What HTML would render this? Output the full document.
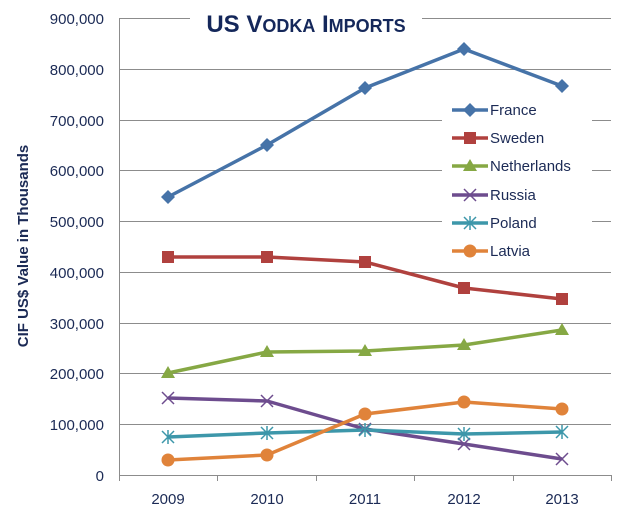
<!DOCTYPE html>
<html><head><meta charset="utf-8"><style>
body{margin:0;background:#fff;}
svg text{font-family:"Liberation Sans",sans-serif;fill:#1b2a55;}
</style></head><body>
<svg width="630" height="516" viewBox="0 0 630 516" xmlns="http://www.w3.org/2000/svg">
<rect width="630" height="516" fill="#fff"/>
<g stroke="#8c8c8c" stroke-width="1">
<line x1="119" y1="18.5" x2="611" y2="18.5"/>
<line x1="119" y1="69.5" x2="611" y2="69.5"/>
<line x1="119" y1="120.5" x2="611" y2="120.5"/>
<line x1="119" y1="170.5" x2="611" y2="170.5"/>
<line x1="119" y1="221.5" x2="611" y2="221.5"/>
<line x1="119" y1="272.5" x2="611" y2="272.5"/>
<line x1="119" y1="323.5" x2="611" y2="323.5"/>
<line x1="119" y1="373.5" x2="611" y2="373.5"/>
<line x1="119" y1="424.5" x2="611" y2="424.5"/>
<line x1="119.5" y1="18" x2="119.5" y2="475"/>
<line x1="119" y1="475.5" x2="611" y2="475.5"/>
<line x1="119.5" y1="475" x2="119.5" y2="481"/>
<line x1="217.5" y1="475" x2="217.5" y2="481"/>
<line x1="316.5" y1="475" x2="316.5" y2="481"/>
<line x1="414.5" y1="475" x2="414.5" y2="481"/>
<line x1="513.5" y1="475" x2="513.5" y2="481"/>
<line x1="611.5" y1="475" x2="611.5" y2="481"/>
</g>
<g font-size="15" text-anchor="end">
<text x="104" y="24">900,000</text><text x="104" y="75">800,000</text>
<text x="104" y="126">700,000</text><text x="104" y="176">600,000</text>
<text x="104" y="227">500,000</text><text x="104" y="278">400,000</text>
<text x="104" y="329">300,000</text><text x="104" y="379">200,000</text>
<text x="104" y="430">100,000</text><text x="104" y="481">0</text>
</g>
<g font-size="15" text-anchor="middle">
<text x="168" y="504">2009</text><text x="267" y="504">2010</text>
<text x="365" y="504">2011</text><text x="464" y="504">2012</text>
<text x="562" y="504">2013</text>
</g>
<text transform="translate(28,246) rotate(-90)" font-size="15" font-weight="bold" text-anchor="middle">CIF US$ Value in Thousands</text>
<rect x="190" y="8" width="232" height="30" fill="#fff"/>
<text x="306" y="32" font-size="24" font-weight="bold" text-anchor="middle" style="fill:#14275a">US V<tspan font-size="18">ODKA</tspan> I<tspan font-size="18">MPORTS</tspan></text>

<g fill="none" stroke-width="3.5" stroke-linejoin="round">
<polyline stroke="#4673a8" points="168,197 267,145 365,88 464,49 562,86"/>
<polyline stroke="#b0413e" points="168,257 267,257 365,262 464,288 562,299"/>
<polyline stroke="#86a844" points="168,373 267,352 365,351 464,345 562,330"/>
<polyline stroke="#6d4c8e" points="168,398 267,401 365,429 464,444 562,459"/>
<polyline stroke="#3d97aa" points="168,437 267,433 365,430 464,434 562,432"/>
<polyline stroke="#e0833a" points="168,460 267,455 365,414 464,402 562,409"/>
</g>
<g fill="#4673a8">
<path d="M168,190l7,7-7,7-7-7z"/><path d="M267,138l7,7-7,7-7-7z"/><path d="M365,81l7,7-7,7-7-7z"/><path d="M464,42l7,7-7,7-7-7z"/><path d="M562,79l7,7-7,7-7-7z"/>
</g>
<g fill="#b0413e">
<rect x="162" y="251" width="12" height="12"/><rect x="261" y="251" width="12" height="12"/><rect x="359" y="256" width="12" height="12"/><rect x="458" y="282" width="12" height="12"/><rect x="556" y="293" width="12" height="12"/>
</g>
<g fill="#86a844">
<path d="M168,366l7,12h-14z"/><path d="M267,345l7,12h-14z"/><path d="M365,344l7,12h-14z"/><path d="M464,338l7,12h-14z"/><path d="M562,323l7,12h-14z"/>
</g>
<g stroke="#6d4c8e" stroke-width="1.5">
<path d="M162,392l12,12M174,392l-12,12M261,395l12,12M273,395l-12,12M359,423l12,12M371,423l-12,12M458,438l12,12M470,438l-12,12M556,453l12,12M568,453l-12,12"/>
</g>
<g stroke="#3d97aa" stroke-width="1.5">
<path d="M162,431l12,12M174,431l-12,12M168,430v14M261,427l12,12M273,427l-12,12M267,426v14M359,424l12,12M371,424l-12,12M365,423v14M458,428l12,12M470,428l-12,12M464,427v14M556,426l12,12M568,426l-12,12M562,425v14"/>
</g>
<g fill="#e0833a">
<circle cx="168" cy="460" r="6.5"/><circle cx="267" cy="455" r="6.5"/><circle cx="365" cy="414" r="6.5"/><circle cx="464" cy="402" r="6.5"/><circle cx="562" cy="409" r="6.5"/>
</g>

<rect x="442" y="96" width="150" height="170" fill="#fff"/>
<g stroke-width="3.5">
<line x1="452" y1="110" x2="488" y2="110" stroke="#4673a8"/>
<line x1="452" y1="138" x2="488" y2="138" stroke="#b0413e"/>
<line x1="452" y1="166" x2="488" y2="166" stroke="#86a844"/>
<line x1="452" y1="195" x2="488" y2="195" stroke="#6d4c8e"/>
<line x1="452" y1="223" x2="488" y2="223" stroke="#3d97aa"/>
<line x1="452" y1="251" x2="488" y2="251" stroke="#e0833a"/>
</g>
<path d="M470,103l7,7-7,7-7-7z" fill="#4673a8"/>
<rect x="464" y="132" width="12" height="12" fill="#b0413e"/>
<path d="M470,159l7,12h-14z" fill="#86a844"/>
<path d="M464,189l12,12M476,189l-12,12" stroke="#6d4c8e" stroke-width="1.5"/>
<path d="M464,217l12,12M476,217l-12,12M470,216v14" stroke="#3d97aa" stroke-width="1.5"/>
<circle cx="470" cy="251" r="6.5" fill="#e0833a"/>
<g font-size="15">
<text x="490" y="115">France</text><text x="490" y="143">Sweden</text>
<text x="490" y="171">Netherlands</text><text x="490" y="200">Russia</text>
<text x="490" y="228">Poland</text><text x="490" y="256">Latvia</text>
</g>
</svg>
</body></html>
